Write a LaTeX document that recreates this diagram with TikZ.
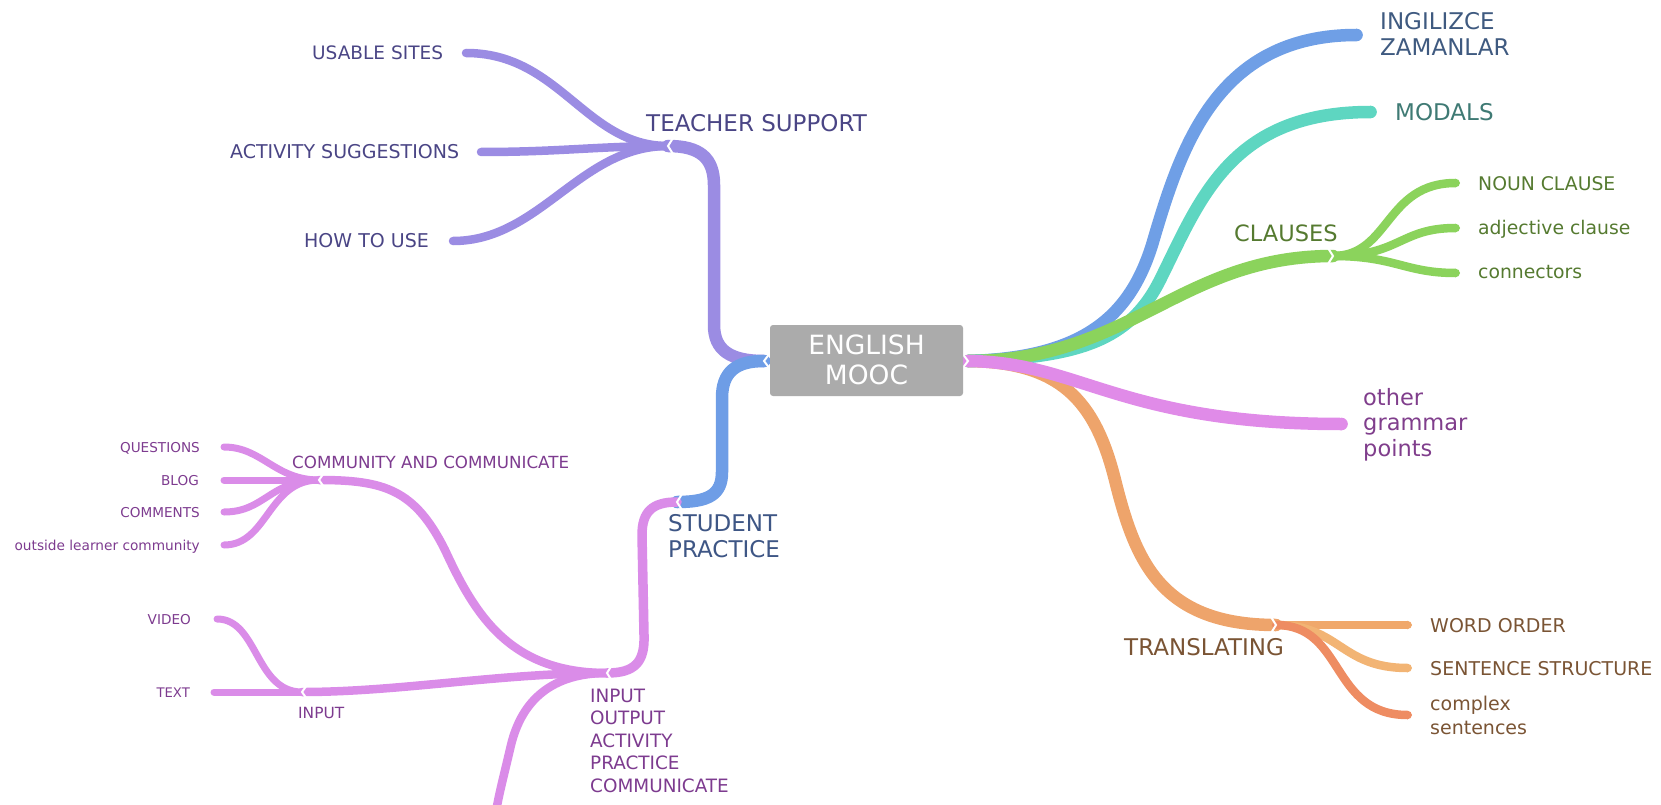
\documentclass[tikz,border=0pt]{standalone}
\usepackage{fontspec}
\setmainfont{DejaVu Sans}
\usetikzlibrary{arrows.meta}
\definecolor{cTS}{HTML}{9B8CE3}
\definecolor{tTS}{HTML}{4A4585}
\definecolor{cSP}{HTML}{6E9DE6}
\definecolor{tSP}{HTML}{3E5685}
\definecolor{cPK}{HTML}{DA8CE8}
\definecolor{tPK}{HTML}{7D3B8F}
\definecolor{cIN}{HTML}{6F9FE6}
\definecolor{tIN}{HTML}{3F5A80}
\definecolor{cMO}{HTML}{5ED6C1}
\definecolor{tMO}{HTML}{3F7A74}
\definecolor{cCL}{HTML}{8BD35C}
\definecolor{tCL}{HTML}{557A30}
\definecolor{cOG}{HTML}{E08BE8}
\definecolor{tOG}{HTML}{803E8C}
\definecolor{cTR}{HTML}{EEA46B}
\definecolor{tTR}{HTML}{7A5434}
\definecolor{cWO}{HTML}{F0A86B}
\definecolor{cSS}{HTML}{F2B474}
\definecolor{cCS}{HTML}{EE8C62}
\definecolor{cBox}{HTML}{ABABAB}
\newcommand\lstack[1]{\begin{tabular}[t]{@{}l@{}}#1\end{tabular}}
\newcommand\cstack[1]{\begin{tabular}[t]{@{}c@{}}#1\end{tabular}}
\newcommand\fs[2]{\fontsize{#1}{#2}\selectfont}
\begin{document}
\begin{tikzpicture}[x=1pt,y=-1pt,
  br/.style={line cap=round,line join=round},
  wa/.style={br,line width=12.5pt},
  wb/.style={br,line width=9.5pt},
  wc/.style={br,line width=8.5pt},
  wd/.style={br,line width=7pt},
  tipR/.style={-{Triangle[length=0pt 0.55,width=0pt 1]}},
  notch/.style={white,line width=2pt,line cap=round,line join=miter},
  lbl/.style={inner sep=0pt,anchor=base west},
  lblR/.style={inner sep=0pt,anchor=base east}]
\useasboundingbox (0,0) rectangle (1661,805);
% ---------- coordinates
\coordinate (CL) at (764,361);
\coordinate (CR) at (968,361);
\coordinate (TSj) at (668,146);
\coordinate (SPj) at (677,502);
\coordinate (IOj) at (607,673);
\coordinate (CCj) at (319,480);
\coordinate (INj) at (302,692);
\coordinate (CLj) at (1333,256);
\coordinate (TRj) at (1276,625);
\coordinate (usable) at (466,53);
\coordinate (activity) at (481,152);
\coordinate (howto) at (453,241);
\coordinate (questions) at (224,447);
\coordinate (blog) at (224,480);
\coordinate (comments) at (224,512);
\coordinate (outside) at (224,545);
\coordinate (video) at (217,619);
\coordinate (textl) at (214,692);
\coordinate (bot) at (497,806);
\coordinate (ingilizce) at (1363,35);
\coordinate (modals) at (1377,112);
\coordinate (noun) at (1460,183);
\coordinate (adj) at (1460,228);
\coordinate (conn) at (1460,273);
\coordinate (other) at (1348,424);
\coordinate (word) at (1412,625);
\coordinate (sent) at (1412,668);
\coordinate (complex) at (1412,715);
% ---------- left: teacher support
\draw[wa,cTS] (CL) .. controls (730,361) and (714,350) .. (714,325) -- (714,185) .. controls (714,158) and (700,146) .. (TSj);
\draw[wc,cTS] (TSj) .. controls (585,146) and (560,53) .. (usable);
\draw[wc,cTS] (TSj) .. controls (600,146) and (560,152) .. (activity);
\draw[wc,cTS] (TSj) .. controls (580,146) and (540,241) .. (howto);
% ---------- left: student practice
\draw[wa,cSP] (CL) .. controls (736,361) and (722,372) .. (722,398) -- (722,472) .. controls (722,495) and (708,502) .. (SPj);
\draw[wb,cPK] (SPj) .. controls (652,502) and (642,512) .. (642,535) -- (644,635) .. controls (645,662) and (635,673) .. (IOj);
\draw[wc,cPK] (IOj) .. controls (510,673) and (475,615) .. (445,550) .. controls (415,490) and (385,480) .. (CCj);
\draw[wc,cPK] (IOj) .. controls (500,673) and (400,692) .. (INj);
\draw[wc,cPK,line cap=butt] (IOj) .. controls (552,673) and (522,700) .. (511,745) .. controls (504,775) and (500,790) .. (bot);
\draw[wd,cPK] (CCj) .. controls (275,480) and (262,447) .. (questions);
\draw[wd,cPK] (CCj) -- (blog);
\draw[wd,cPK] (CCj) .. controls (270,480) and (265,512) .. (comments);
\draw[wd,cPK] (CCj) .. controls (268,480) and (268,545) .. (outside);
\draw[wd,cPK] (INj) -- (textl);
\draw[wd,cPK] (INj) .. controls (255,692) and (258,619) .. (video);
% ---------- right
\draw[wa,cTR] (CR) .. controls (1060,362) and (1095,400) .. (1115,480) .. controls (1135,560) and (1160,625) .. (TRj);
\draw[wc,cWO,tipR] (TRj) -- (word);
\draw[wc,cSS,tipR] (TRj) .. controls (1340,625) and (1340,668) .. (sent);
\draw[wc,cCS,tipR] (TRj) .. controls (1345,625) and (1330,715) .. (complex);
\draw[wa,cIN,tipR] (CR) .. controls (1085,358) and (1130,315) .. (1152,245) .. controls (1180,150) and (1215,35) .. (ingilizce);
\draw[wa,cMO,tipR] (CR) .. controls (1080,358) and (1130,340) .. (1160,280) .. controls (1200,200) and (1230,112) .. (modals);
\draw[wa,cCL] (CR) .. controls (1130,361) and (1180,256) .. (CLj);
\draw[wc,cCL,tipR] (CLj) .. controls (1390,256) and (1385,183) .. (noun);
\draw[wc,cCL,tipR] (CLj) .. controls (1400,256) and (1400,228) .. (adj);
\draw[wc,cCL,tipR] (CLj) .. controls (1395,256) and (1405,273) .. (conn);
\draw[wa,cOG,tipR] (CR) .. controls (1080,362) and (1120,424) .. (other);
% ---------- notches
\draw[notch] (TSj) ++(5,-8) -- (TSj) -- ++(5,8);
\draw[notch] (SPj) ++(5,-8) -- (SPj) -- ++(5,8);
\draw[notch] (IOj) ++(5,-8) -- (IOj) -- ++(5,8);
\draw[notch] (CCj) ++(5,-7) -- (CCj) -- ++(5,7);
\draw[notch] (INj) ++(5,-7) -- (INj) -- ++(5,7);
\draw[notch] (CLj) ++(-5,-8) -- (CLj) -- ++(-5,8);
\draw[notch] (TRj) ++(-5,-8) -- (TRj) -- ++(-5,8);
\draw[notch] (CL) ++(6,-8) -- (CL) -- ++(6,8);
\draw[notch] (CR) ++(-6,-8) -- (CR) -- ++(-6,8);
% ---------- centre box
\node[fill=cBox,rounded corners=3pt,minimum width=193pt,minimum height=71pt,inner sep=0pt] (root) at (866.5,360.5) {};
\node[inner sep=0pt,anchor=base,text=white,font=\fs{26.5}{30}] (rootT) at (866.5,354.7) {\cstack{ENGLISH\\MOOC}};
% ---------- labels
\node[lbl,font=\fs{18.5}{22},text=tTS] (usableT) at (312,59.7) {USABLE SITES};
\node[lbl,font=\fs{19}{22},text=tTS] (activityT) at (230,159) {ACTIVITY SUGGESTIONS};
\node[lbl,font=\fs{19}{22},text=tTS] (howtoT) at (304,247) {HOW TO USE};
\node[lbl,font=\fs{23}{25},text=tTS] (tsT) at (646,131.4) {TEACHER SUPPORT};
\node[lbl,font=\fs{23}{26.5},text=tSP] (spT) at (668,531) {\lstack{STUDENT\\PRACTICE}};
\node[lbl,font=\fs{16.7}{20},text=tPK] (ccT) at (292,468) {COMMUNITY AND COMMUNICATE};
\node[lblR,font=\fs{13.6}{16},text=tPK] (questionsT) at (200,452) {QUESTIONS};
\node[lblR,font=\fs{13.6}{16},text=tPK] (blogT) at (199,485) {BLOG};
\node[lblR,font=\fs{13.6}{16},text=tPK] (commentsT) at (200,517) {COMMENTS};
\node[lblR,font=\fs{13.7}{16},text=tPK] (outsideT) at (200,550) {outside learner community};
\node[lblR,font=\fs{13.6}{16},text=tPK] (videoT) at (191,624) {VIDEO};
\node[lblR,font=\fs{13.2}{16},text=tPK] (textT) at (190,697) {TEXT};
\node[lbl,font=\fs{15.4}{18},text=tPK] (inputT) at (298,718.6) {INPUT};
\node[lbl,font=\fs{18.4}{22.5},text=tPK] (ioT) at (590,702) {\lstack{INPUT\\OUTPUT\\ACTIVITY\\PRACTICE\\COMMUNICATE}};
\node[lbl,font=\fs{23}{26},text=tIN] (ingT) at (1380,29.4) {\lstack{INGILIZCE\\ZAMANLAR}};
\node[lbl,font=\fs{23}{26},text=tMO] (modT) at (1395,120.4) {MODALS};
\node[lbl,font=\fs{22.5}{26},text=tCL] (clT) at (1234,241) {CLAUSES};
\node[lbl,font=\fs{18.8}{22},text=tCL] (nounT) at (1478,190) {NOUN CLAUSE};
\node[lbl,font=\fs{18.8}{22},text=tCL] (adjT) at (1478,234) {adjective clause};
\node[lbl,font=\fs{18.8}{22},text=tCL] (connT) at (1478,278) {connectors};
\node[lbl,font=\fs{22.5}{25.5},text=tOG] (otherT) at (1363,405) {\lstack{other\\grammar\\points}};
\node[lbl,font=\fs{23}{26},text=tTR] (trT) at (1124,655.4) {TRANSLATING};
\node[lbl,font=\fs{19}{22},text=tTR] (wordT) at (1430,632) {WORD ORDER};
\node[lbl,font=\fs{19}{22},text=tTR] (sentT) at (1430,675) {SENTENCE STRUCTURE};
\node[lbl,font=\fs{19}{24},text=tTR] (complexT) at (1430,710.5) {\lstack{complex\\sentences}};
\end{tikzpicture}
\end{document}
